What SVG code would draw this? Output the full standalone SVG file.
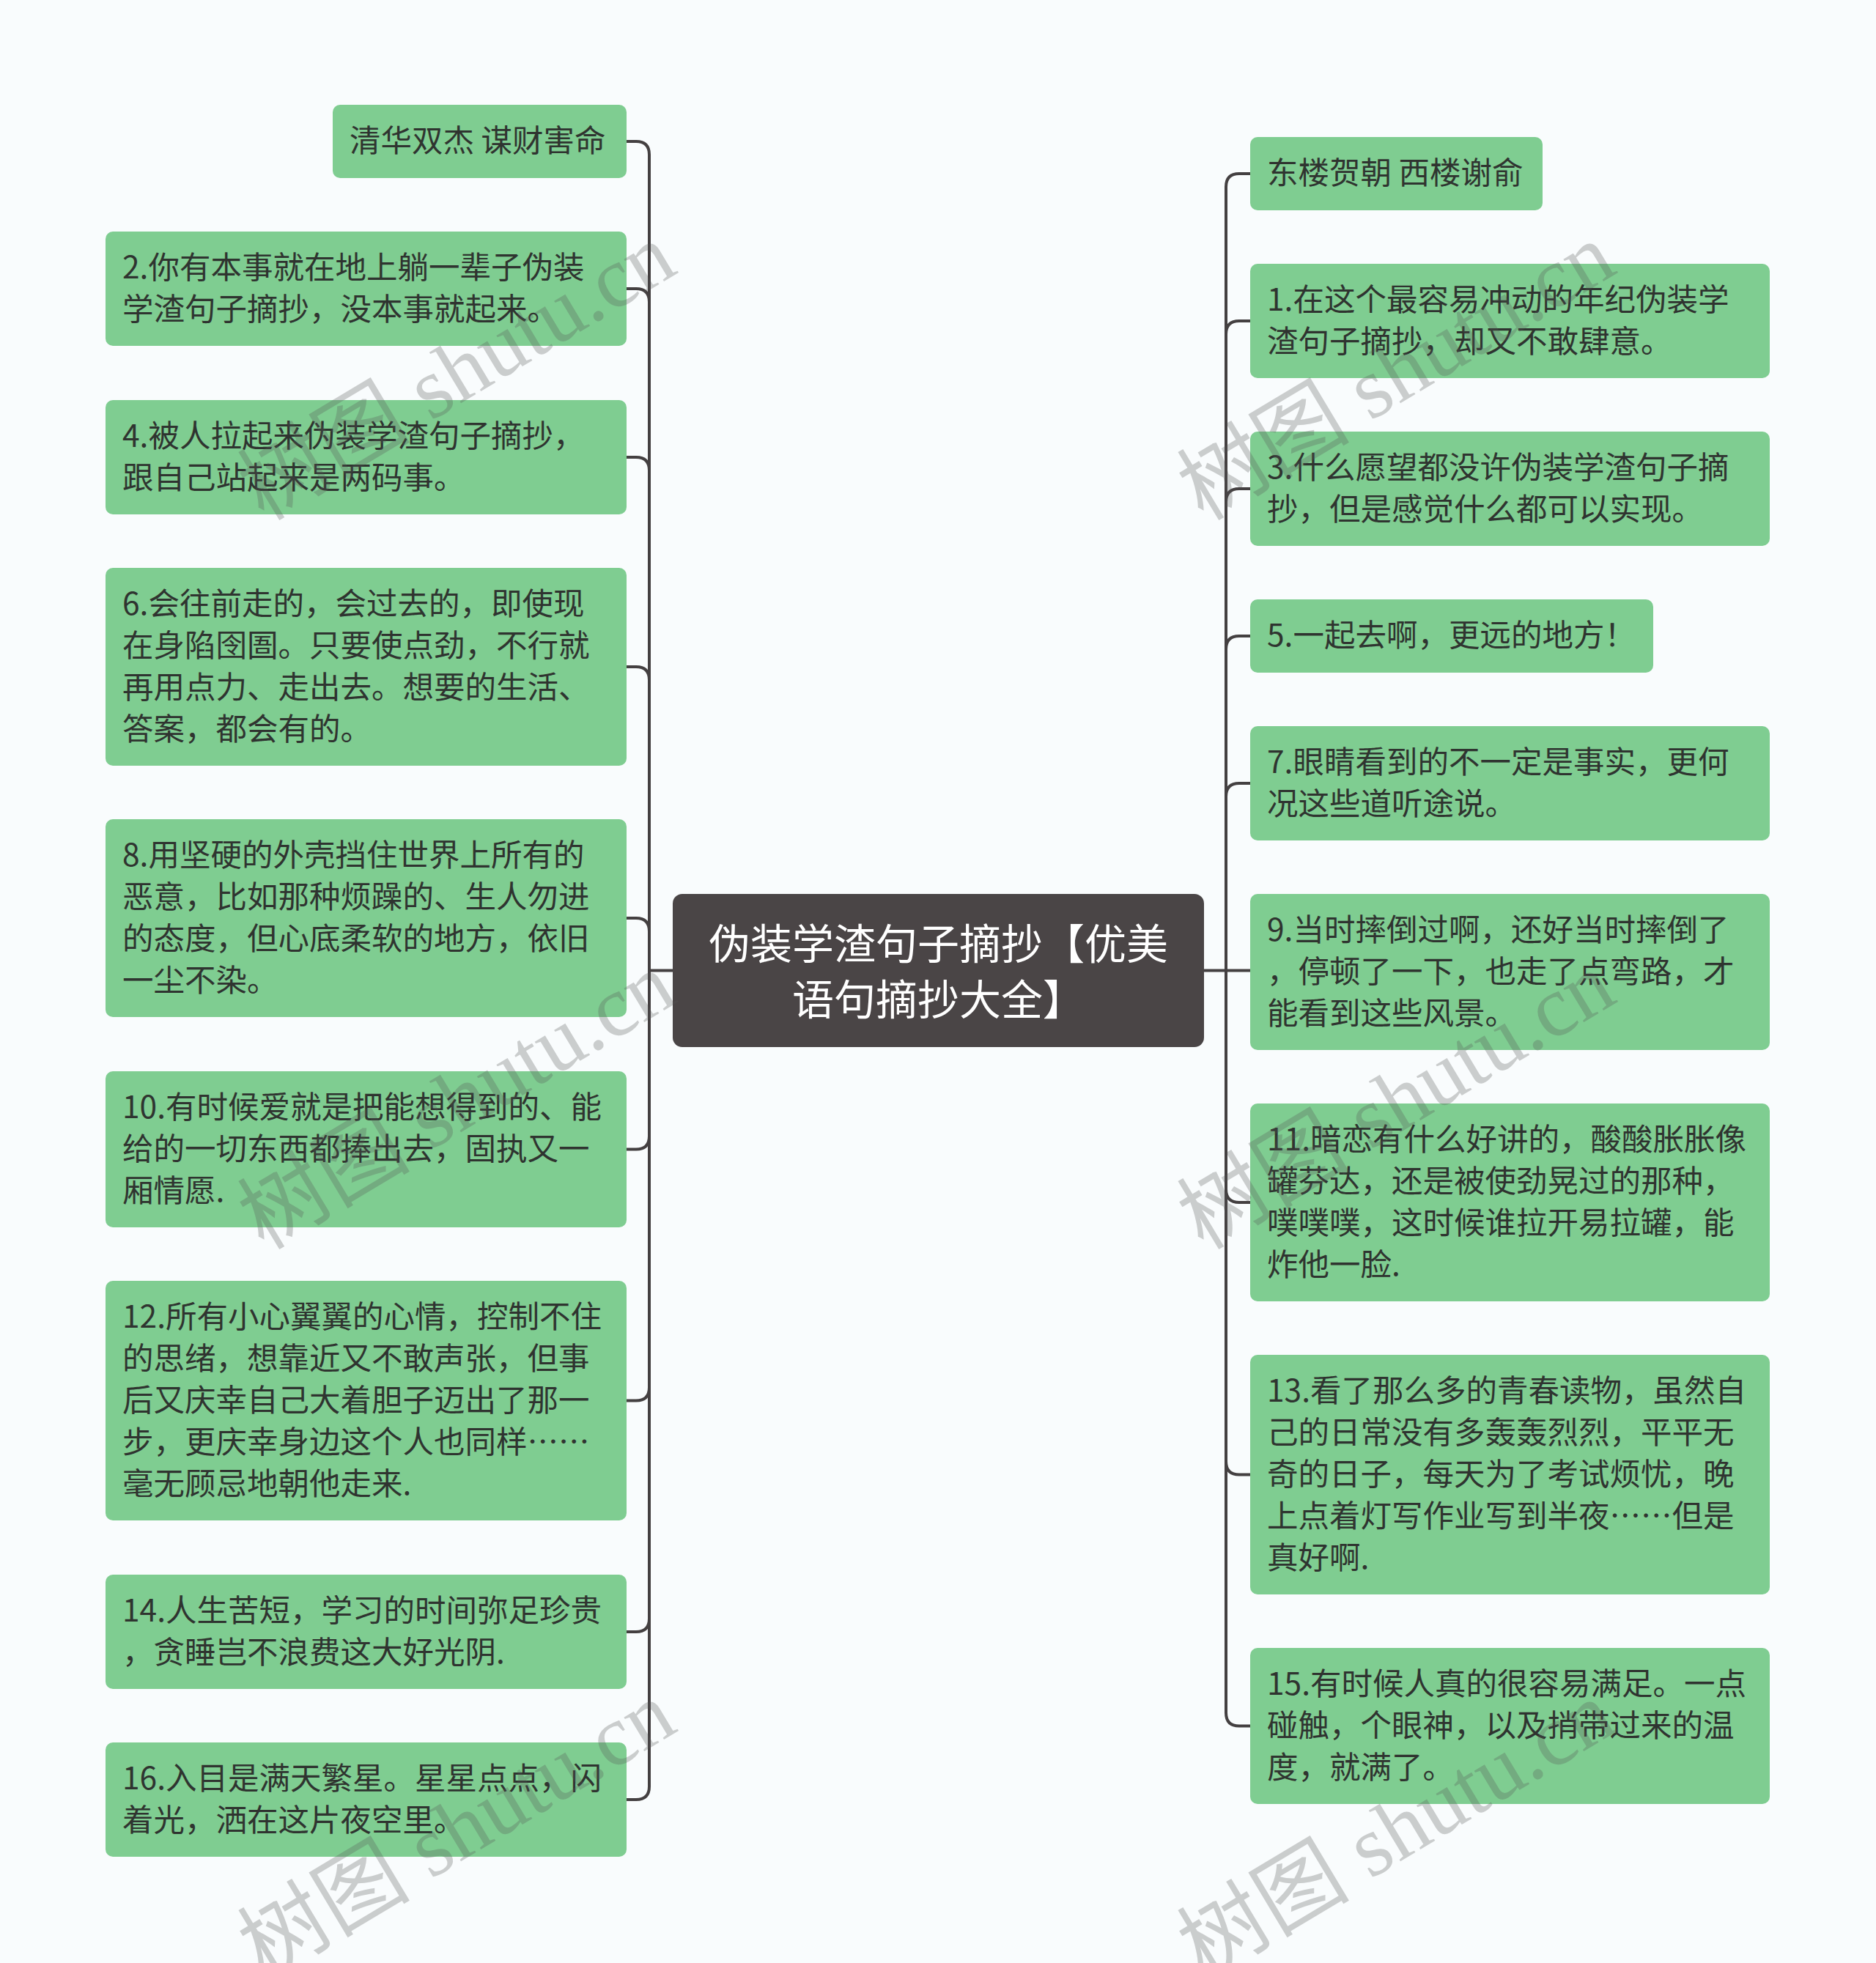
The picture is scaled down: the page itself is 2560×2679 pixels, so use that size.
<svg xmlns="http://www.w3.org/2000/svg" width="2560" height="2679" viewBox="0 0 2560 2679">
<style>
.box{fill:#7fcd91}
.root{fill:#4a4546}
.t{font-family:"Noto Sans CJK SC","Noto Sans",sans-serif;font-size:42.5px;fill:#2f3430}
.rt{font-family:"Noto Sans CJK SC","Noto Sans",sans-serif;font-size:57px;fill:#ffffff;text-anchor:middle}
.conn{fill:none;stroke:#444041;stroke-width:4}
.wm{font-family:"Liberation Serif","Noto Sans CJK SC",serif;font-size:118px;fill:#555555;opacity:0.28}
</style>
<rect width="2560" height="2679" fill="#f9fcfd"/>

<g id="connectors">
<path class="conn" d="M918 1324.5H886"/>
<path class="conn" d="M886 1324.5V211Q886 193 868 193H855"/>
<path class="conn" d="M886 1324.5V412Q886 394 868 394H855"/>
<path class="conn" d="M886 1324.5V642Q886 624 868 624H855"/>
<path class="conn" d="M886 1324.5V928Q886 910 868 910H855"/>
<path class="conn" d="M886 1324.5V1271Q886 1253 868 1253H855"/>
<path class="conn" d="M886 1324.5V1550.5Q886 1568.5 868 1568.5H855"/>
<path class="conn" d="M886 1324.5V1893.5Q886 1911.5 868 1911.5H855"/>
<path class="conn" d="M886 1324.5V2209Q886 2227 868 2227H855"/>
<path class="conn" d="M886 1324.5V2438Q886 2456 868 2456H855"/>
<path class="conn" d="M1643 1324.5H1673"/>
<path class="conn" d="M1673 1324.5V255Q1673 237 1691 237H1706"/>
<path class="conn" d="M1673 1324.5V456Q1673 438 1691 438H1706"/>
<path class="conn" d="M1673 1324.5V685Q1673 667 1691 667H1706"/>
<path class="conn" d="M1673 1324.5V886Q1673 868 1691 868H1706"/>
<path class="conn" d="M1673 1324.5V1087Q1673 1069 1691 1069H1706"/>
<path class="conn" d="M1673 1324.5H1706"/>
<path class="conn" d="M1673 1324.5V1623Q1673 1641 1691 1641H1706"/>
<path class="conn" d="M1673 1324.5V1994.5Q1673 2012.5 1691 2012.5H1706"/>
<path class="conn" d="M1673 1324.5V2337.5Q1673 2355.5 1691 2355.5H1706"/>
</g>

<g id="root">
<rect class="root" x="918" y="1220" width="725" height="209" rx="13"/>
<text class="rt" x="1280.5" y="1309">伪装学渣句子摘抄【优美</text>
<text class="rt" x="1280.5" y="1385">语句摘抄大全】</text>
</g>

<g id="L1"><rect class="box" x="454" y="143" width="401" height="100" rx="10"/>
<text class="t" x="477" y="207">清华双杰 谋财害命</text></g>

<g id="L2"><rect class="box" x="144" y="316" width="711" height="156" rx="10"/>
<text class="t" x="167" y="380">2.你有本事就在地上躺一辈子伪装</text>
<text class="t" x="167" y="437">学渣句子摘抄，没本事就起来。</text></g>

<g id="L3"><rect class="box" x="144" y="546" width="711" height="156" rx="10"/>
<text class="t" x="167" y="610">4.被人拉起来伪装学渣句子摘抄，</text>
<text class="t" x="167" y="667">跟自己站起来是两码事。</text></g>

<g id="L4"><rect class="box" x="144" y="775" width="711" height="270" rx="10"/>
<text class="t" x="167" y="839">6.会往前走的，会过去的，即使现</text>
<text class="t" x="167" y="896">在身陷囹圄。只要使点劲，不行就</text>
<text class="t" x="167" y="953">再用点力、走出去。想要的生活、</text>
<text class="t" x="167" y="1010">答案，都会有的。</text></g>

<g id="L5"><rect class="box" x="144" y="1118" width="711" height="270" rx="10"/>
<text class="t" x="167" y="1182">8.用坚硬的外壳挡住世界上所有的</text>
<text class="t" x="167" y="1239">恶意，比如那种烦躁的、生人勿进</text>
<text class="t" x="167" y="1296">的态度，但心底柔软的地方，依旧</text>
<text class="t" x="167" y="1353">一尘不染。</text></g>

<g id="L6"><rect class="box" x="144" y="1462" width="711" height="213" rx="10"/>
<text class="t" x="167" y="1526">10.有时候爱就是把能想得到的、能</text>
<text class="t" x="167" y="1583">给的一切东西都捧出去，固执又一</text>
<text class="t" x="167" y="1640">厢情愿.</text></g>

<g id="L7"><rect class="box" x="144" y="1748" width="711" height="327" rx="10"/>
<text class="t" x="167" y="1812">12.所有小心翼翼的心情，控制不住</text>
<text class="t" x="167" y="1869">的思绪，想靠近又不敢声张，但事</text>
<text class="t" x="167" y="1926">后又庆幸自己大着胆子迈出了那一</text>
<text class="t" x="167" y="1983">步，更庆幸身边这个人也同样……</text>
<text class="t" x="167" y="2040">毫无顾忌地朝他走来.</text></g>

<g id="L8"><rect class="box" x="144" y="2149" width="711" height="156" rx="10"/>
<text class="t" x="167" y="2213">14.人生苦短，学习的时间弥足珍贵</text>
<text class="t" x="167" y="2270">，贪睡岂不浪费这大好光阴.</text></g>

<g id="L9"><rect class="box" x="144" y="2378" width="711" height="156" rx="10"/>
<text class="t" x="167" y="2442">16.入目是满天繁星。星星点点，闪</text>
<text class="t" x="167" y="2499">着光，洒在这片夜空里。</text></g>

<g id="R1"><rect class="box" x="1706" y="187" width="399" height="100" rx="10"/>
<text class="t" x="1729" y="251">东楼贺朝 西楼谢俞</text></g>

<g id="R2"><rect class="box" x="1706" y="360" width="709" height="156" rx="10"/>
<text class="t" x="1729" y="424">1.在这个最容易冲动的年纪伪装学</text>
<text class="t" x="1729" y="481">渣句子摘抄，却又不敢肆意。</text></g>

<g id="R3"><rect class="box" x="1706" y="589" width="709" height="156" rx="10"/>
<text class="t" x="1729" y="653">3.什么愿望都没许伪装学渣句子摘</text>
<text class="t" x="1729" y="710">抄，但是感觉什么都可以实现。</text></g>

<g id="R4"><rect class="box" x="1706" y="818" width="550" height="100" rx="10"/>
<text class="t" x="1729" y="882">5.一起去啊，更远的地方！</text></g>

<g id="R5"><rect class="box" x="1706" y="991" width="709" height="156" rx="10"/>
<text class="t" x="1729" y="1055">7.眼睛看到的不一定是事实，更何</text>
<text class="t" x="1729" y="1112">况这些道听途说。</text></g>

<g id="R6"><rect class="box" x="1706" y="1220" width="709" height="213" rx="10"/>
<text class="t" x="1729" y="1284">9.当时摔倒过啊，还好当时摔倒了</text>
<text class="t" x="1729" y="1341">，停顿了一下，也走了点弯路，才</text>
<text class="t" x="1729" y="1398">能看到这些风景。</text></g>

<g id="R7"><rect class="box" x="1706" y="1506" width="709" height="270" rx="10"/>
<text class="t" x="1729" y="1570">11.暗恋有什么好讲的，酸酸胀胀像</text>
<text class="t" x="1729" y="1627">罐芬达，还是被使劲晃过的那种，</text>
<text class="t" x="1729" y="1684">噗噗噗，这时候谁拉开易拉罐，能</text>
<text class="t" x="1729" y="1741">炸他一脸.</text></g>

<g id="R8"><rect class="box" x="1706" y="1849" width="709" height="327" rx="10"/>
<text class="t" x="1729" y="1913">13.看了那么多的青春读物，虽然自</text>
<text class="t" x="1729" y="1970">己的日常没有多轰轰烈烈，平平无</text>
<text class="t" x="1729" y="2027">奇的日子，每天为了考试烦忧，晚</text>
<text class="t" x="1729" y="2084">上点着灯写作业写到半夜……但是</text>
<text class="t" x="1729" y="2141">真好啊.</text></g>

<g id="R9"><rect class="box" x="1706" y="2249" width="709" height="213" rx="10"/>
<text class="t" x="1729" y="2313">15.有时候人真的很容易满足。一点</text>
<text class="t" x="1729" y="2370">碰触，个眼神，以及捎带过来的温</text>
<text class="t" x="1729" y="2427">度，就满了。</text></g>

<g id="watermarks">
<text class="wm" transform="translate(360,712) rotate(-31)">树图 shutu.cn</text>
<text class="wm" transform="translate(1642,712) rotate(-31)">树图 shutu.cn</text>
<text class="wm" transform="translate(360,1707) rotate(-31)">树图 shutu.cn</text>
<text class="wm" transform="translate(1642,1707) rotate(-31)">树图 shutu.cn</text>
<text class="wm" transform="translate(360,2702) rotate(-31)">树图 shutu.cn</text>
<text class="wm" transform="translate(1642,2702) rotate(-31)">树图 shutu.cn</text>
</g>
</svg>
